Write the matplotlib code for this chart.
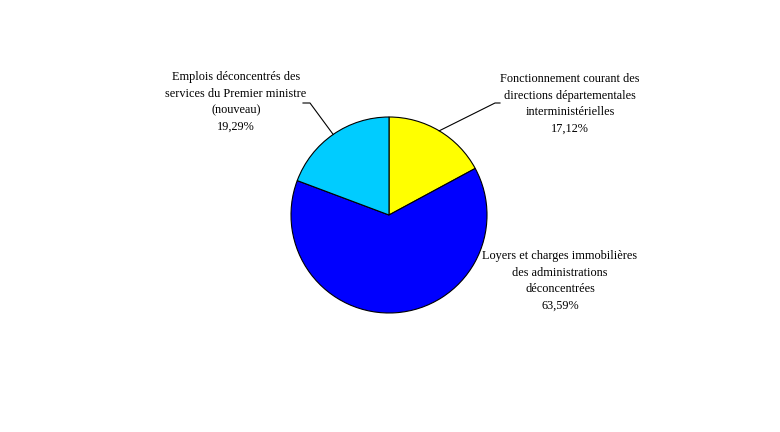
import numpy as np
import matplotlib
matplotlib.use("Agg")
import matplotlib.pyplot as plt

# Répartition des crédits
labels = ["Fonctionnement courant des\ndirections départementales\ninterministérielles",
          "Loyers et charges immobilières\ndes administrations\ndéconcentrées",
          "Emplois déconcentrés des\nservices du Premier ministre\n(nouveau)"]
values = [17.12, 63.59, 19.29]
colors = ["#FFFF00", "#0000FF", "#00CCFF"]

W, H = 780, 432
cx, cy, r = 389, H - 215, 98

fig = plt.figure(figsize=(7.8, 4.32), dpi=100)
ax = fig.add_axes([0, 0, 1, 1])

wedges, _ = ax.pie(values, colors=colors, startangle=90, counterclock=False,
                   center=(cx, cy), radius=r, frame=True,
                   wedgeprops=dict(edgecolor="black", linewidth=0.8))
ax.set_xlim(0, W)
ax.set_ylim(0, H)
ax.set_aspect("equal")
ax.axis("off")

font = dict(family=["Liberation Serif", "DejaVu Serif"], fontsize=8.8,
            ha="center", va="center", linespacing=1.5, color="black")

# positions des étiquettes (centre du texte) et coudes des traits de rappel
text_pos = [(570, H - 104), (560, H - 281), (236, H - 102)]
elbows = [[(495, H - 103), (500, H - 103)], None, [(310, H - 103), (303, H - 103)]]

for w, lab, v, tp, el in zip(wedges, labels, values, text_pos, elbows):
    txt = lab + "\n" + f"{v:.2f}".replace(".", ",") + "%"
    ax.text(tp[0], tp[1], txt, **font)
    if el is not None:
        ang = np.deg2rad((w.theta1 + w.theta2) / 2)
        px, py = cx + r * np.cos(ang), cy + r * np.sin(ang)
        xs = [px] + [p[0] for p in el]
        ys = [py] + [p[1] for p in el]
        ax.plot(xs, ys, color="black", linewidth=0.8)

fig.savefig("out.png", dpi=100, facecolor="white")
